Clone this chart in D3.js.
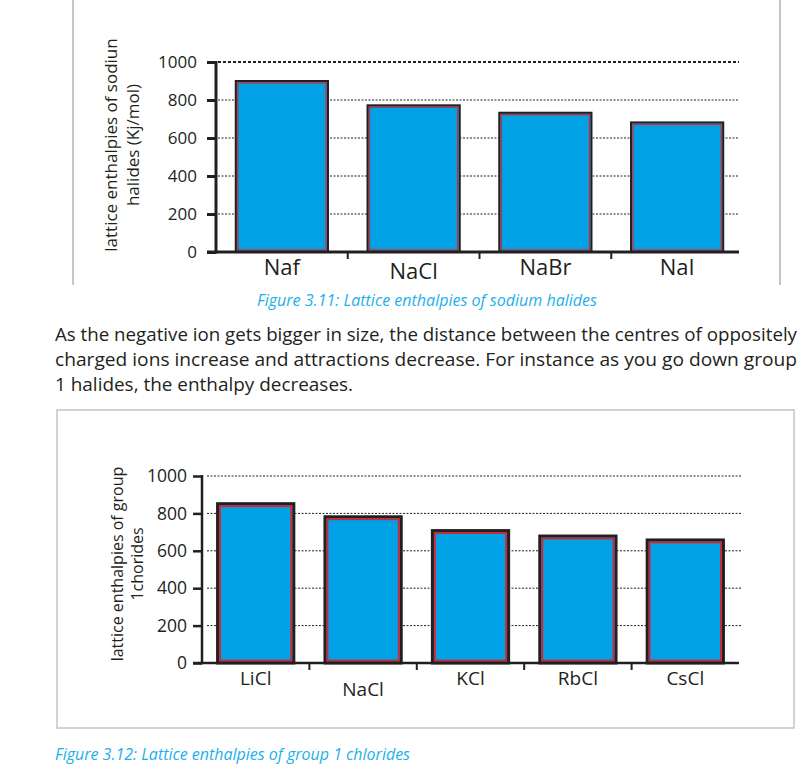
<!DOCTYPE html>
<html><head><meta charset="utf-8">
<script src="https://cdn.jsdelivr.net/npm/d3@7"></script>
<style>
html,body{margin:0;padding:0;background:#fff;}
svg{display:block;}
text{font-family:"Open Sans","Noto Sans",sans-serif;fill:#231f20;}
</style></head>
<body>
<svg id="c" width="805" height="784"></svg>
<script>
// ---- data ----
const halideCats = ["Naf", "NaCl", "NaBr", "NaI"];
const halideVals = [900, 772, 733, 682];
const chlorideCats = ["LiCl", "NaCl", "KCl", "RbCl", "CsCl"];
const chlorideVals = [852, 782, 708, 679, 658];
const yTickVals = [0, 200, 400, 600, 800, 1000];
const halideLabelShift = [0, 4, 0, 0];
const chlorideLabelShift = [0, 11, 0, 0, 0];
const caption1 = "Figure 3.11: Lattice enthalpies of sodium halides";
const caption2 = "Figure 3.12: Lattice enthalpies of group 1 chlorides";
const bodyLines = [
  "As the negative ion gets bigger in size, the distance between the centres of oppositely",
  "charged ions increase and attractions decrease. For instance as you go down group",
  "1 halides, the enthalpy decreases."
];
const title1 = ["lattice enthalpies of sodiun", "halides (Kj/mol)"];
const title2 = ["lattice enthalpies of group", "1chorides"];

const svg = d3.select("#c");
const DARK = "#231f20", BLUE = "#00a2e5", RED = "#d9232b", CYAN = "#1cb0eb";

// frame lines of the first figure
svg.append("line").attr("x1",73).attr("x2",73).attr("y1",0).attr("y2",285).attr("stroke","#c6c6c6").attr("stroke-width",2);
svg.append("line").attr("x1",780).attr("x2",780).attr("y1",0).attr("y2",285).attr("stroke","#c6c6c6").attr("stroke-width",2);
// box of the second figure
svg.append("rect").attr("x",57).attr("y",410).attr("width",737).attr("height",318)
  .attr("fill","none").attr("stroke","#c4c4c4").attr("stroke-width",1.5);

function drawChart(o){
  const g = svg.append("g");
  const x = d3.scaleBand().domain(o.cats).range([o.x0, o.x1]).paddingInner(o.pad).paddingOuter(o.pad/2);
  const y = d3.scaleLinear().domain([0,1000]).range([o.y0, o.y1]);
  // gridlines
  g.selectAll(".grid").data(o.ticks.filter(d=>d>0)).join("line")
    .attr("x1",o.gx0).attr("x2",o.gx1).attr("y1",d=>y(d)).attr("y2",d=>y(d))
    .attr("stroke",DARK)
    .attr("stroke-width",d=> d===1000 ? o.topW : 1)
    .attr("stroke-dasharray",d=> d===1000 ? o.topDash : "2,1.5");
  // bars
  const bars = g.selectAll(".bar").data(o.vals).join("g");
  bars.append("rect")
    .attr("x",(d,i)=>x(o.cats[i])).attr("width",x.bandwidth())
    .attr("y",d=>y(d)).attr("height",d=>y(0)-y(d))
    .attr("fill",BLUE).attr("stroke",DARK).attr("stroke-width",o.outerW);
  bars.append("rect")
    .attr("x",(d,i)=>x(o.cats[i])+o.inset).attr("width",x.bandwidth()-2*o.inset)
    .attr("y",d=>y(d)+o.inset).attr("height",d=>y(0)-y(d)-2*o.inset)
    .attr("fill","none").attr("stroke",RED).attr("stroke-width",o.redW);
  // y axis
  const ya = g.append("g").attr("transform",`translate(${o.x0},0)`)
    .call(d3.axisLeft(y).tickValues(o.ticks).tickSize(9).tickSizeOuter(0).tickPadding(o.tickPad).tickFormat(d3.format("d")));
  ya.select(".domain").remove();
  ya.selectAll("line").attr("stroke",DARK).attr("stroke-width",o.axisW);
  ya.selectAll("text").attr("font-size",o.tickFont).attr("font-family",'"Open Sans",sans-serif').attr("fill",DARK);
  g.append("line").attr("x1",o.x0).attr("x2",o.x0).attr("y1",y(1000)-1).attr("y2",y(0)+o.axisW/2)
    .attr("stroke",DARK).attr("stroke-width",o.axisW);
  // x axis
  g.append("line").attr("x1",o.x0-9).attr("x2",o.xEnd).attr("y1",y(0)).attr("y2",y(0))
    .attr("stroke",DARK).attr("stroke-width",o.axisW);
  const step = x.step();
  g.selectAll(".xt").data(o.cats.slice(1)).join("line")
    .attr("x1",d=>x(d)-x.paddingInner()*step/2).attr("x2",d=>x(d)-x.paddingInner()*step/2)
    .attr("y1",y(0)).attr("y2",y(0)+7).attr("stroke",DARK).attr("stroke-width",2);
  g.selectAll(".xl").data(o.cats).join("text")
    .attr("x",d=>x(d)+x.bandwidth()/2).attr("y",(d,i)=>o.labelY+o.shift[i])
    .attr("text-anchor","middle").attr("font-size",o.labelFont).text(d=>d);
  // y title
  o.title.forEach((t,i)=>{
    g.append("text").attr("transform",`translate(${o.titleX[i]},${o.titleY}) rotate(-90)`)
      .attr("text-anchor","middle").attr("dominant-baseline","central")
      .attr("font-size",o.titleFont).text(t);
  });
}

drawChart({cats:halideCats, vals:halideVals, x0:216, x1:743, xEnd:739, y0:252, y1:62, pad:0.3,
  gx0:218, gx1:739, ticks:yTickVals, topW:2.2, topDash:"3,2", outerW:2, inset:2, redW:1.2,
  axisW:3, tickPad:10, tickFont:17, labelFont:22, labelY:275, shift:halideLabelShift,
  title:title1, titleX:[110,132], titleY:145, titleFont:17});

drawChart({cats:chlorideCats, vals:chlorideVals, x0:202, x1:739, xEnd:739, y0:663, y1:476, pad:0.29,
  gx0:207, gx1:742, ticks:yTickVals, topW:1, topDash:"2,1.5", outerW:3, inset:2.5, redW:1.8,
  axisW:2.5, tickPad:6, tickFont:17.5, labelFont:19, labelY:685, shift:chlorideLabelShift,
  title:title2, titleX:[117,137], titleY:564, titleFont:16});

// captions
svg.append("text").attr("x",257).attr("y",306).attr("font-size",17).attr("font-style","italic")
  .attr("textLength",340).attr("lengthAdjust","spacingAndGlyphs").style("fill",CYAN).text(caption1);
svg.append("text").attr("x",55).attr("y",760).attr("font-size",17).attr("font-style","italic")
  .attr("textLength",355).attr("lengthAdjust","spacingAndGlyphs").style("fill",CYAN).text(caption2);

// body paragraph
const bodyY = [341, 366, 391];
const bodyLen = [742, 742, 298];
const bodyFont = [18, 19, 19];
bodyLines.forEach((t,i)=>{
  svg.append("text").attr("x",55).attr("y",bodyY[i]).attr("font-size",bodyFont[i])
    .attr("textLength",bodyLen[i]).attr("lengthAdjust","spacingAndGlyphs").text(t);
});
</script>
</body></html>
